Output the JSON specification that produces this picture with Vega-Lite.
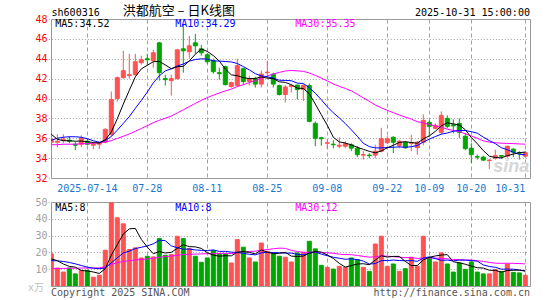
{
  "$schema": "https://vega.github.io/schema/vega-lite/v6.json",
  "background": "white",
  "padding": {"left": 27, "top": 4, "right": 10, "bottom": 2},
  "config": {
    "view": {"stroke": "#999999", "strokeWidth": 1},
    "font": "DejaVu Sans Mono",
    "axis": {"labelFont": "DejaVu Sans Mono", "labelFontSize": 10, "ticks": false, "domain": false, "title": null, "gridColor": "#a0a0a0", "gridWidth": 1, "gridOpacity": 1, "labelOverlap": false},
    "axisY": {"labelOverlap": false}
  },
  "datasets": {
    "k": [
      {"d":"2025-07-04","o":35.6,"h":36.5,"l":34.9,"c":35.9,"v":19.1,"m5":36.4,"m10":35.8,"m30":35.35,"v5":16.1,"v10":15.1,"v30":10.3},
      {"d":"2025-07-07","o":35.6,"h":36.4,"l":35.1,"c":35.7,"v":10.7,"m5":35.9,"m10":36.0,"m30":35.35,"v5":15.1,"v10":15.0,"v30":10.4},
      {"d":"2025-07-08","o":35.8,"h":36.4,"l":35.5,"c":35.9,"v":8.3,"m5":35.75,"m10":36.1,"m30":35.4,"v5":13.1,"v10":14.6,"v30":10.5},
      {"d":"2025-07-09","o":35.8,"h":36.2,"l":35.5,"c":35.7,"v":10.7,"m5":35.75,"m10":36.15,"m30":35.4,"v5":11.7,"v10":14.0,"v30":10.6},
      {"d":"2025-07-10","o":35.4,"h":35.6,"l":34.8,"c":35.3,"v":7.2,"m5":35.7,"m10":36.15,"m30":35.4,"v5":11.2,"v10":13.2,"v30":10.6},
      {"d":"2025-07-11","o":35.4,"h":36.3,"l":35.1,"c":36.0,"v":9.3,"m5":35.72,"m10":36.1,"m30":35.45,"v5":9.24,"v10":12.2,"v30":10.7},
      {"d":"2025-07-14","o":35.7,"h":36.0,"l":35.3,"c":35.4,"v":9.3,"m5":35.66,"m10":35.95,"m30":35.45,"v5":8.96,"v10":11.2,"v30":10.7},
      {"d":"2025-07-15","o":35.3,"h":35.6,"l":34.9,"c":35.4,"v":5.2,"m5":35.56,"m10":35.75,"m30":35.5,"v5":8.34,"v10":10.6,"v30":10.7},
      {"d":"2025-07-16","o":35.4,"h":35.6,"l":34.9,"c":35.5,"v":6.4,"m5":35.52,"m10":35.6,"m30":35.55,"v5":7.48,"v10":10.3,"v30":10.8},
      {"d":"2025-07-17","o":35.6,"h":37.0,"l":35.5,"c":36.9,"v":21.3,"m5":35.84,"m10":35.77,"m30":35.62,"v5":10.3,"v10":10.75,"v30":11.5},
      {"d":"2025-07-18","o":36.4,"h":40.7,"l":36.2,"c":39.9,"v":49.5,"m5":36.62,"m10":36.17,"m30":35.76,"v5":18.34,"v10":13.79,"v30":12.8},
      {"d":"2025-07-21","o":40.0,"h":42.2,"l":39.7,"c":42.1,"v":40.6,"m5":37.96,"m10":36.81,"m30":35.98,"v5":24.6,"v10":16.78,"v30":13.9},
      {"d":"2025-07-22","o":42.1,"h":44.8,"l":42.0,"c":42.8,"v":37.0,"m5":39.44,"m10":37.5,"m30":36.2,"v5":30.96,"v10":19.65,"v30":14.6},
      {"d":"2025-07-23","o":42.3,"h":44.5,"l":42.0,"c":42.4,"v":21.7,"m5":40.82,"m10":38.17,"m30":36.43,"v5":34.02,"v10":20.75,"v30":15.1},
      {"d":"2025-07-24","o":42.4,"h":44.5,"l":42.3,"c":43.7,"v":22.7,"m5":42.18,"m10":39.01,"m30":36.7,"v5":34.3,"v10":22.3,"v30":15.5},
      {"d":"2025-07-25","o":43.6,"h":44.3,"l":43.4,"c":43.9,"v":16.7,"m5":42.98,"m10":39.8,"m30":36.98,"v5":27.74,"v10":23.04,"v30":15.8},
      {"d":"2025-07-28","o":44.0,"h":44.5,"l":43.3,"c":43.9,"v":17.7,"m5":43.34,"m10":40.65,"m30":37.26,"v5":23.16,"v10":23.88,"v30":16.1},
      {"d":"2025-07-29","o":43.8,"h":44.9,"l":43.1,"c":44.6,"v":17.3,"m5":43.7,"m10":41.57,"m30":37.57,"v5":19.22,"v10":25.09,"v30":16.5},
      {"d":"2025-07-30","o":45.6,"h":45.7,"l":41.8,"c":42.6,"v":28.2,"m5":43.74,"m10":42.28,"m30":37.8,"v5":20.52,"v10":27.27,"v30":17.1},
      {"d":"2025-07-31","o":42.0,"h":42.4,"l":41.3,"c":41.9,"v":18.3,"m5":43.38,"m10":42.78,"m30":38.02,"v5":19.64,"v10":26.97,"v30":17.5},
      {"d":"2025-08-01","o":41.8,"h":42.4,"l":40.3,"c":42.0,"v":18.7,"m5":43.0,"m10":42.99,"m30":38.23,"v5":20.04,"v10":23.89,"v30":17.8},
      {"d":"2025-08-04","o":42.0,"h":45.0,"l":41.9,"c":44.9,"v":29.6,"m5":43.2,"m10":43.27,"m30":38.55,"v5":22.42,"v10":22.79,"v30":18.3},
      {"d":"2025-08-05","o":45.0,"h":47.5,"l":42.6,"c":44.8,"v":28.2,"m5":43.24,"m10":43.47,"m30":38.86,"v5":24.6,"v10":21.91,"v30":18.7},
      {"d":"2025-08-06","o":44.7,"h":46.3,"l":44.0,"c":45.3,"v":22.3,"m5":43.78,"m10":43.76,"m30":39.18,"v5":23.42,"v10":21.97,"v30":18.9},
      {"d":"2025-08-07","o":45.6,"h":46.5,"l":44.5,"c":45.3,"v":17.7,"m5":44.46,"m10":43.92,"m30":39.51,"v5":23.3,"v10":21.47,"v30":19.0},
      {"d":"2025-08-08","o":45.0,"h":45.4,"l":44.3,"c":44.6,"v":14.1,"m5":44.98,"m10":43.99,"m30":39.81,"v5":22.38,"v10":21.21,"v30":19.1},
      {"d":"2025-08-11","o":44.4,"h":44.6,"l":43.5,"c":43.7,"v":16.7,"m5":44.74,"m10":43.97,"m30":40.09,"v5":19.8,"v10":21.11,"v30":19.2},
      {"d":"2025-08-12","o":43.8,"h":44.0,"l":42.5,"c":42.7,"v":21.1,"m5":44.32,"m10":43.78,"m30":40.33,"v5":18.38,"v10":21.49,"v30":19.3},
      {"d":"2025-08-13","o":42.6,"h":43.1,"l":41.9,"c":42.5,"v":19.1,"m5":43.76,"m10":43.77,"m30":40.56,"v5":17.74,"v10":20.58,"v30":19.4},
      {"d":"2025-08-14","o":43.2,"h":43.3,"l":41.3,"c":41.4,"v":19.1,"m5":42.98,"m10":43.72,"m30":40.76,"v5":18.02,"v10":20.66,"v30":19.46},
      {"d":"2025-08-15","o":41.2,"h":41.7,"l":41.1,"c":41.6,"v":13.7,"m5":42.38,"m10":43.68,"m30":40.95,"v5":17.94,"v10":20.16,"v30":19.28},
      {"d":"2025-08-18","o":41.3,"h":44.0,"l":41.2,"c":43.3,"v":27.6,"m5":42.3,"m10":43.52,"m30":41.2,"v5":20.12,"v10":19.96,"v30":19.84},
      {"d":"2025-08-19","o":43.0,"h":43.1,"l":41.4,"c":41.7,"v":23.1,"m5":42.1,"m10":43.21,"m30":41.39,"v5":20.52,"v10":19.45,"v30":20.34},
      {"d":"2025-08-20","o":41.7,"h":42.3,"l":41.3,"c":42.0,"v":16.7,"m5":42.0,"m10":42.88,"m30":41.6,"v5":20.04,"v10":18.89,"v30":20.54},
      {"d":"2025-08-21","o":42.0,"h":42.2,"l":41.1,"c":41.45,"v":14.3,"m5":42.01,"m10":42.5,"m30":41.81,"v5":19.08,"v10":18.55,"v30":20.77},
      {"d":"2025-08-22","o":41.45,"h":42.8,"l":41.1,"c":42.45,"v":25.6,"m5":42.18,"m10":42.28,"m30":42.02,"v5":21.46,"v10":19.7,"v30":21.32},
      {"d":"2025-08-25","o":42.6,"h":43.8,"l":42.0,"c":42.65,"v":20.7,"m5":42.05,"m10":42.18,"m30":42.27,"v5":20.08,"v10":20.1,"v30":21.7},
      {"d":"2025-08-26","o":42.45,"h":42.6,"l":41.1,"c":41.45,"v":19.1,"m5":42.0,"m10":42.05,"m30":42.47,"v5":19.28,"v10":19.9,"v30":22.16},
      {"d":"2025-08-27","o":41.3,"h":41.4,"l":40.3,"c":40.4,"v":17.7,"m5":41.68,"m10":41.84,"m30":42.63,"v5":19.48,"v10":19.76,"v30":22.54},
      {"d":"2025-08-28","o":40.4,"h":41.35,"l":39.6,"c":41.15,"v":17.1,"m5":41.62,"m10":41.82,"m30":42.77,"v5":20.04,"v10":19.56,"v30":22.4},
      {"d":"2025-08-29","o":41.2,"h":41.45,"l":40.6,"c":41.3,"v":14.3,"m5":41.39,"m10":41.79,"m30":42.82,"v5":17.78,"v10":19.62,"v30":21.22},
      {"d":"2025-09-01","o":41.35,"h":41.4,"l":39.9,"c":40.9,"v":19.7,"m5":41.04,"m10":41.55,"m30":42.78,"v5":17.58,"v10":18.83,"v30":20.53},
      {"d":"2025-09-02","o":40.9,"h":41.45,"l":39.75,"c":41.3,"v":20.1,"m5":41.01,"m10":41.51,"m30":42.73,"v5":17.78,"v10":18.53,"v30":19.96},
      {"d":"2025-09-03","o":41.3,"h":41.5,"l":37.6,"c":37.7,"v":26.6,"m5":40.47,"m10":41.08,"m30":42.57,"v5":19.56,"v10":19.52,"v30":20.13},
      {"d":"2025-09-04","o":37.5,"h":37.7,"l":35.2,"c":36.0,"v":22.1,"m5":39.44,"m10":40.53,"m30":42.32,"v5":20.56,"v10":20.3,"v30":20.11},
      {"d":"2025-09-05","o":36.05,"h":36.15,"l":35.25,"c":35.95,"v":12.3,"m5":38.37,"m10":39.88,"m30":42.05,"v5":20.16,"v10":18.97,"v30":19.96},
      {"d":"2025-09-08","o":35.5,"h":35.9,"l":34.95,"c":35.55,"v":11.1,"m5":37.3,"m10":39.17,"m30":41.77,"v5":18.44,"v10":18.01,"v30":19.74},
      {"d":"2025-09-09","o":35.4,"h":35.8,"l":35.0,"c":35.35,"v":10.1,"m5":36.11,"m10":38.56,"m30":41.46,"v5":16.44,"v10":17.11,"v30":19.5},
      {"d":"2025-09-10","o":35.2,"h":36.1,"l":35.0,"c":35.3,"v":11.7,"m5":35.63,"m10":38.05,"m30":41.22,"v5":13.46,"v10":16.51,"v30":18.95},
      {"d":"2025-09-11","o":35.2,"h":35.7,"l":35.0,"c":35.45,"v":11.1,"m5":35.52,"m10":37.48,"m30":41.01,"v5":11.26,"v10":15.91,"v30":18.71},
      {"d":"2025-09-12","o":35.35,"h":35.5,"l":34.7,"c":35.0,"v":16.7,"m5":35.33,"m10":36.85,"m30":40.77,"v5":12.14,"v10":16.15,"v30":18.64},
      {"d":"2025-09-15","o":35.0,"h":35.2,"l":34.1,"c":34.35,"v":15.7,"m5":35.09,"m10":36.2,"m30":40.42,"v5":13.06,"v10":15.75,"v30":18.18},
      {"d":"2025-09-16","o":34.3,"h":34.7,"l":33.85,"c":34.35,"v":11.1,"m5":34.89,"m10":35.5,"m30":40.07,"v5":13.26,"v10":14.85,"v30":17.61},
      {"d":"2025-09-17","o":34.3,"h":34.5,"l":34.0,"c":34.25,"v":8.7,"m5":34.68,"m10":35.16,"m30":39.71,"v5":12.66,"v10":13.06,"v30":17.16},
      {"d":"2025-09-18","o":34.3,"h":35.35,"l":34.0,"c":34.7,"v":25.0,"m5":34.53,"m10":35.03,"m30":39.35,"v5":15.44,"v10":13.35,"v30":17.4},
      {"d":"2025-09-19","o":34.7,"h":37.05,"l":34.6,"c":35.95,"v":29.6,"m5":34.72,"m10":35.03,"m30":39.06,"v5":18.02,"v10":15.08,"v30":17.92},
      {"d":"2025-09-22","o":35.55,"h":36.2,"l":35.4,"c":35.95,"v":11.7,"m5":35.04,"m10":35.07,"m30":38.81,"v5":17.22,"v10":15.14,"v30":17.75},
      {"d":"2025-09-23","o":36.1,"h":36.2,"l":34.5,"c":35.6,"v":13.1,"m5":35.29,"m10":35.09,"m30":38.57,"v5":17.62,"v10":15.44,"v30":17.48},
      {"d":"2025-09-24","o":35.25,"h":35.85,"l":35.0,"c":35.7,"v":8.7,"m5":35.58,"m10":35.13,"m30":38.34,"v5":17.62,"v10":15.14,"v30":17.14},
      {"d":"2025-09-25","o":35.6,"h":35.7,"l":34.95,"c":35.05,"v":10.3,"m5":35.65,"m10":35.09,"m30":38.13,"v5":14.68,"v10":15.06,"v30":16.84},
      {"d":"2025-09-26","o":35.5,"h":36.35,"l":34.7,"c":35.55,"v":17.1,"m5":35.57,"m10":35.15,"m30":37.93,"v5":12.18,"v10":15.1,"v30":16.96},
      {"d":"2025-09-29","o":35.05,"h":35.7,"l":34.35,"c":35.6,"v":11.7,"m5":35.5,"m10":35.27,"m30":37.67,"v5":12.18,"v10":14.7,"v30":16.43},
      {"d":"2025-09-30","o":35.6,"h":38.4,"l":35.3,"c":37.8,"v":29.6,"m5":35.94,"m10":35.62,"m30":37.54,"v5":15.48,"v10":16.55,"v30":16.64},
      {"d":"2025-10-09","o":37.6,"h":37.8,"l":36.1,"c":37.2,"v":16.7,"m5":36.24,"m10":35.91,"m30":37.38,"v5":17.08,"v10":17.35,"v30":16.64},
      {"d":"2025-10-10","o":37.0,"h":37.5,"l":36.9,"c":37.3,"v":14.3,"m5":36.69,"m10":36.17,"m30":37.24,"v5":17.88,"v10":16.28,"v30":16.64},
      {"d":"2025-10-13","o":36.6,"h":38.7,"l":36.4,"c":38.3,"v":19.7,"m5":37.24,"m10":36.41,"m30":37.11,"v5":18.4,"v10":15.29,"v30":16.45},
      {"d":"2025-10-14","o":38.0,"h":38.3,"l":37.0,"c":37.2,"v":13.1,"m5":37.56,"m10":36.53,"m30":36.92,"v5":18.68,"v10":15.43,"v30":16.19},
      {"d":"2025-10-15","o":37.35,"h":37.9,"l":36.5,"c":37.25,"v":8.3,"m5":37.45,"m10":36.7,"m30":36.78,"v5":14.42,"v10":14.95,"v30":15.83},
      {"d":"2025-10-16","o":37.5,"h":38.0,"l":36.0,"c":36.6,"v":13.7,"m5":37.33,"m10":36.79,"m30":36.66,"v5":13.82,"v10":15.45,"v30":15.7},
      {"d":"2025-10-17","o":36.2,"h":36.5,"l":34.8,"c":34.95,"v":9.9,"m5":36.86,"m10":36.78,"m30":36.45,"v5":12.94,"v10":15.41,"v30":15.46},
      {"d":"2025-10-20","o":35.0,"h":35.5,"l":33.5,"c":34.35,"v":14.3,"m5":36.07,"m10":36.66,"m30":36.22,"v5":11.86,"v10":15.13,"v30":15.46},
      {"d":"2025-10-21","o":34.15,"h":34.35,"l":33.85,"c":34.1,"v":8.3,"m5":35.45,"m10":36.51,"m30":35.99,"v5":10.9,"v10":14.79,"v30":15.08},
      {"d":"2025-10-22","o":34.1,"h":34.25,"l":33.7,"c":33.8,"v":7.2,"m5":34.76,"m10":36.11,"m30":35.74,"v5":10.68,"v10":12.55,"v30":14.65},
      {"d":"2025-10-23","o":33.75,"h":33.9,"l":32.9,"c":33.8,"v":7.2,"m5":34.2,"m10":35.77,"m30":35.61,"v5":9.38,"v10":11.6,"v30":14.0},
      {"d":"2025-10-24","o":34.0,"h":34.85,"l":33.85,"c":34.25,"v":9.7,"m5":34.06,"m10":35.46,"m30":35.55,"v5":9.34,"v10":11.14,"v30":13.59},
      {"d":"2025-10-27","o":34.25,"h":34.3,"l":33.9,"c":34.2,"v":8.7,"m5":34.03,"m10":35.05,"m30":35.5,"v5":8.22,"v10":10.04,"v30":13.47},
      {"d":"2025-10-28","o":34.2,"h":35.25,"l":34.0,"c":35.2,"v":13.1,"m5":34.25,"m10":34.85,"m30":35.48,"v5":9.18,"v10":10.04,"v30":13.54},
      {"d":"2025-10-29","o":34.9,"h":35.0,"l":34.1,"c":34.6,"v":8.1,"m5":34.41,"m10":34.59,"m30":35.46,"v5":9.36,"v10":10.02,"v30":13.47},
      {"d":"2025-10-30","o":34.55,"h":34.7,"l":33.85,"c":34.5,"v":7.8,"m5":34.55,"m10":34.38,"m30":35.43,"v5":9.48,"v10":9.43,"v30":13.34},
      {"d":"2025-10-31","o":34.2,"h":34.7,"l":34.0,"c":34.55,"v":6.4,"m5":34.61,"m10":34.34,"m30":35.4,"v5":8.82,"v10":9.08,"v30":13.18}
    ]
  },
  "spacing": 24,
  "bounds": "flush",
  "vconcat": [
    {
      "width": 479,
      "height": 159,
      "data": {"name": "k"},
      "resolve": {"axis": {"y": "independent"}},
      "encoding": {
        "x": {
          "field": "d", "type": "ordinal",
          "scale": {"type": "band", "range": [-2.7, 477.3], "paddingInner": 0, "paddingOuter": 0},
          "axis": {
            "values": ["2025-07-14","2025-07-28","2025-08-11","2025-08-25","2025-09-08","2025-09-22","2025-10-09","2025-10-20","2025-10-31"],
            "labelExpr": "datum.value == '2025-07-14' ? datum.value : slice(datum.value, 5)",
            "labelColor": "#1478d2", "labelAngle": 0, "labelPadding": 5, "labelBaseline": "top",
            "grid": true, "gridDash": [4, 3], "bandPosition": 0.5, "labelFlush": 8, "labelOverlap": false
          }
        }
      },
      "layer": [
        {
          "mark": {"type": "rule", "strokeWidth": 1, "clip": true},
          "encoding": {
            "y": {
              "field": "l", "type": "quantitative",
              "scale": {"domain": [32, 48], "nice": false, "zero": false},
              "axis": {"values": [32,34,36,38,40,42,44,46,48], "labelColor": "#ff0000", "labelPadding": 4, "labelOverlap": false, "grid": true, "gridDash": [1, 2]}
            },
            "y2": {"field": "h"},
            "color": {"condition": {"test": "datum.c >= datum.o", "value": "#ff5252"}, "value": "#00a600"}
          }
        },
        {
          "mark": {"type": "bar", "size": 4, "strokeWidth": 1, "clip": true},
          "encoding": {
            "y": {"field": "o", "type": "quantitative", "axis": null},
            "y2": {"field": "c"},
            "fill": {"condition": {"test": "datum.c >= datum.o", "value": "#ff5252"}, "value": "#00a600"},
            "stroke": {"condition": {"test": "datum.c >= datum.o", "value": "#ff5252"}, "value": "#00a600"}
          }
        },
        {
          "mark": {"type": "line", "color": "#ff00ff", "strokeWidth": 1, "clip": true},
          "encoding": {"y": {"field": "m30", "type": "quantitative", "axis": null}}
        },
        {
          "mark": {"type": "line", "color": "#0000ff", "strokeWidth": 1, "clip": true},
          "encoding": {"y": {"field": "m10", "type": "quantitative", "axis": null}}
        },
        {
          "mark": {"type": "line", "color": "#000000", "strokeWidth": 1, "clip": true},
          "encoding": {"y": {"field": "m5", "type": "quantitative", "axis": null}}
        },
        {
          "data": {"values": [{}]},
          "mark": {"type": "text", "text": "sina", "align": "right", "baseline": "alphabetic", "dx": 4, "dy": -6, "fontSize": 18, "fontStyle": "italic", "fontWeight": "bold", "font": "Liberation Sans", "color": "#d6d6d6"},
          "encoding": {"x": {"datum": "2025-10-31"}, "y": {"datum": 32, "axis": null}}
        },
        {
          "data": {"values": [{}]},
          "mark": {"type": "text", "text": "", "align": "left", "baseline": "alphabetic", "dx": -0.3, "dy": -3.3, "fontSize": 10, "color": "#000000"},
          "encoding": {"x": {"datum": "2025-07-04"}, "y": {"datum": 48, "axis": null}}
        },
        {
          "data": {"values": [{}]},
          "mark": {"type": "text", "text": "洪都航空 – 日K线图", "align": "left", "baseline": "alphabetic", "dx": 71.4, "dy": -3.8, "fontSize": 13, "font": "Noto Sans CJK SC", "color": "#000000"},
          "encoding": {"x": {"datum": "2025-07-04"}, "y": {"datum": 48, "axis": null}}
        },
        {
          "data": {"values": [{}]},
          "mark": {"type": "text", "text": "sh600316\u00a0\u00a0\u00a0\u00a0\u00a0\u00a0\u00a0\u00a0\u00a0\u00a0\u00a0\u00a0\u00a0\u00a0\u00a0\u00a0\u00a0\u00a0\u00a0\u00a0\u00a0\u00a0\u00a0\u00a0\u00a0\u00a0\u00a0\u00a0\u00a0\u00a0\u00a0\u00a0\u00a0\u00a0\u00a0\u00a0\u00a0\u00a0\u00a0\u00a0\u00a0\u00a0\u00a0\u00a0\u00a0\u00a0\u00a0\u00a0\u00a0\u00a0\u00a0\u00a02025-10-31 15:00:00", "align": "right", "baseline": "alphabetic", "dx": 4.7, "dy": -3.3, "fontSize": 10.07, "color": "#000000"},
          "encoding": {"x": {"datum": "2025-10-31"}, "y": {"datum": 48, "axis": null}}
        },
        {
          "data": {"values": [{}]},
          "mark": {"type": "text", "text": "MA5:34.52", "align": "left", "baseline": "alphabetic", "dx": 4, "dy": 8.4, "fontSize": 10, "color": "#000000"},
          "encoding": {"x": {"datum": "2025-07-04"}, "y": {"datum": 48, "axis": null}}
        },
        {
          "data": {"values": [{}]},
          "mark": {"type": "text", "text": "MA10:34.29", "align": "left", "baseline": "alphabetic", "dx": 4, "dy": 8.4, "fontSize": 10, "color": "#0000ff"},
          "encoding": {"x": {"datum": "2025-08-01"}, "y": {"datum": 48, "axis": null}}
        },
        {
          "data": {"values": [{}]},
          "mark": {"type": "text", "text": "MA30:35.35", "align": "left", "baseline": "alphabetic", "dx": 4, "dy": 8.4, "fontSize": 10, "color": "#ff00ff"},
          "encoding": {"x": {"datum": "2025-08-29"}, "y": {"datum": 48, "axis": null}}
        }
      ]
    },
    {
      "width": 479,
      "height": 84,
      "data": {"name": "k"},
      "resolve": {"axis": {"y": "independent"}},
      "encoding": {
        "x": {
          "field": "d", "type": "ordinal",
          "scale": {"type": "band", "range": [-2.7, 477.3], "paddingInner": 0, "paddingOuter": 0},
          "axis": {
            "values": ["2025-07-14","2025-07-28","2025-08-11","2025-08-25","2025-09-08","2025-09-22","2025-10-09","2025-10-20","2025-10-31"],
            "labels": false, "grid": true, "gridDash": [4, 3], "bandPosition": 0.5
          }
        }
      },
      "layer": [
        {
          "mark": {"type": "bar", "size": 4, "strokeWidth": 1, "clip": true},
          "encoding": {
            "y": {
              "field": "v", "type": "quantitative",
              "scale": {"domain": [0, 50], "nice": false},
              "axis": {"values": [10,20,30,40,50], "labelColor": "#a0a0a0", "labelPadding": 4, "labelOverlap": false, "grid": true, "gridDash": [1, 2]}
            },
            "fill": {"condition": {"test": "datum.c >= datum.o", "value": "#ff5252"}, "value": "#00a600"},
            "stroke": {"condition": {"test": "datum.c >= datum.o", "value": "#ff5252"}, "value": "#00a600"}
          }
        },
        {
          "mark": {"type": "line", "color": "#ff00ff", "strokeWidth": 1, "clip": true},
          "encoding": {"y": {"field": "v30", "type": "quantitative", "axis": null}}
        },
        {
          "mark": {"type": "line", "color": "#0000ff", "strokeWidth": 1, "clip": true},
          "encoding": {"y": {"field": "v10", "type": "quantitative", "axis": null}}
        },
        {
          "mark": {"type": "line", "color": "#000000", "strokeWidth": 1, "clip": true},
          "encoding": {"y": {"field": "v5", "type": "quantitative", "axis": null}}
        },
        {
          "data": {"values": [{}]},
          "mark": {"type": "text", "text": "MA5:8", "align": "left", "baseline": "alphabetic", "dx": 4, "dy": 8.5, "fontSize": 10, "color": "#000000"},
          "encoding": {"x": {"datum": "2025-07-04"}, "y": {"datum": 50, "axis": null}}
        },
        {
          "data": {"values": [{}]},
          "mark": {"type": "text", "text": "MA10:8", "align": "left", "baseline": "alphabetic", "dx": 4, "dy": 8.5, "fontSize": 10, "color": "#0000ff"},
          "encoding": {"x": {"datum": "2025-08-01"}, "y": {"datum": 50, "axis": null}}
        },
        {
          "data": {"values": [{}]},
          "mark": {"type": "text", "text": "MA30:12", "align": "left", "baseline": "alphabetic", "dx": 4, "dy": 8.5, "fontSize": 10, "color": "#ff00ff"},
          "encoding": {"x": {"datum": "2025-08-29"}, "y": {"datum": 50, "axis": null}}
        },
        {
          "data": {"values": [{}]},
          "mark": {"type": "text", "text": "x万", "align": "right", "baseline": "alphabetic", "dx": -7.3, "dy": 5, "fontSize": 10, "font": "DejaVu Sans Mono, Noto Sans CJK SC", "color": "#c0c0c0"},
          "encoding": {"x": {"datum": "2025-07-04"}, "y": {"datum": 0, "axis": null}}
        },
        {
          "data": {"values": [{}]},
          "mark": {"type": "text", "text": "Copyright 2025 SINA.COM", "align": "left", "baseline": "alphabetic", "dx": -0.3, "dy": 9.5, "fontSize": 10, "color": "#555555"},
          "encoding": {"x": {"datum": "2025-07-04"}, "y": {"datum": 0, "axis": null}}
        },
        {
          "data": {"values": [{}]},
          "mark": {"type": "text", "text": "http://finance.sina.com.cn", "align": "right", "baseline": "alphabetic", "dx": 4.7, "dy": 9.5, "fontSize": 10, "color": "#555555"},
          "encoding": {"x": {"datum": "2025-10-31"}, "y": {"datum": 0, "axis": null}}
        }
      ]
    }
  ]
}
